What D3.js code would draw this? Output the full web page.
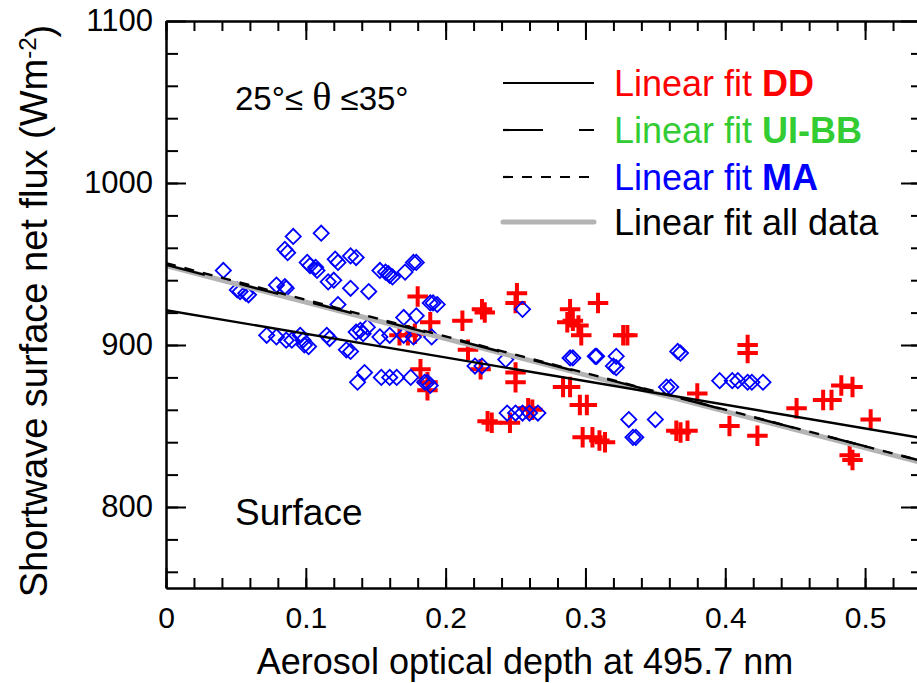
<!DOCTYPE html>
<html>
<head>
<meta charset="utf-8">
<script src="https://cdn.jsdelivr.net/npm/d3@7"></script>
<style>
	body { margin: 0; background: #fff; }
	text { font-family: "Liberation Sans", Arial, sans-serif; }
</style>
</head>
<body>
<div id="chart"></div>
<script>
//DD points (red plus)
const ddX = [0.180, 0.189, 0.167, 0.173, 0.178, 0.182, 0.187, 0.187, 0.212, 0.216,
	0.226, 0.228, 0.225, 0.230, 0.233, 0.246, 0.251, 0.250, 0.250, 0.250,
	0.259, 0.262, 0.287, 0.289, 0.291, 0.295, 0.297, 0.284, 0.289, 0.296,
	0.301, 0.309, 0.327, 0.330, 0.298, 0.305, 0.310, 0.314, 0.365, 0.368,
	0.373, 0.380, 0.403, 0.416, 0.416, 0.423, 0.451, 0.470, 0.476, 0.483,
	0.491, 0.504, 0.489, 0.491];
const ddY = [930, 914, 906, 906, 907, 885, 877, 872, 915, 897,
	922, 920, 885, 853, 852, 852, 932, 926, 883, 877,
	861, 860, 914, 922, 915, 912, 906, 874, 874, 863,
	863, 926, 906, 906, 843, 843, 841, 840, 847, 846,
	847, 870, 850, 900, 895, 844, 861, 866, 866, 875,
	874, 854, 832, 829];

//MA points (blue diamonds)
const maX = [0.041, 0.051, 0.053, 0.057, 0.059, 0.072, 0.079, 0.079, 0.085, 0.086,
	0.085, 0.087, 0.091, 0.086, 0.090, 0.096, 0.098, 0.099, 0.102, 0.101,
	0.103, 0.107, 0.108, 0.111, 0.115, 0.117, 0.116, 0.120, 0.121, 0.123,
	0.123, 0.129, 0.132, 0.132, 0.136, 0.132, 0.136, 0.139, 0.141, 0.144,
	0.137, 0.142, 0.145, 0.153, 0.160, 0.153, 0.157, 0.159, 0.160, 0.162,
	0.154, 0.160, 0.165, 0.170, 0.171, 0.177, 0.179, 0.179, 0.170, 0.177,
	0.175, 0.187, 0.189, 0.185, 0.189, 0.191, 0.194, 0.190, 0.221, 0.226,
	0.243, 0.255, 0.244, 0.250, 0.255, 0.260, 0.266, 0.289, 0.291, 0.307,
	0.308, 0.322, 0.320, 0.322, 0.331, 0.334, 0.336, 0.350, 0.358, 0.361,
	0.366, 0.368, 0.396, 0.405, 0.409, 0.416, 0.419, 0.427];
const maY = [946, 934, 933, 932, 931, 906, 905, 937, 936, 935,
	959, 957, 967, 903, 903, 906, 903, 900, 899, 951,
	949, 948, 946, 969, 906, 904, 939, 940, 953, 951,
	925, 897, 896, 955, 954, 935, 908, 909, 907, 911,
	877, 883, 933, 905, 906, 946, 945, 944, 943, 942,
	880, 880, 880, 917, 945, 951, 951, 918, 906, 905,
	880, 877, 875, 877, 926, 926, 925, 905, 887, 887,
	891, 922, 858, 858, 858, 858, 858, 892, 892, 893,
	893, 893, 887, 886, 854, 843, 843, 854, 874, 874,
	896, 895, 878, 878, 878, 877, 877, 877];

//linear fits: value = intercept + slope * aod
const fitNames = ['DD', 'UI-BB', 'MA', 'all data'];
const fitIntercepts = [921.5, 949.5, 950.5, 949];
const fitSlopes = [-146, -224, -226, -225];
const fitColors = ['red', '#33cc33', 'blue', 'black'];

const xMajor = [0, 0.1, 0.2, 0.3, 0.4, 0.5];
const xMinor = d3.range(0, 0.541, 0.02);
const yMajor = [800, 900, 1000, 1100];
const yMinor = d3.range(760, 1100, 20);

const W = 917;
const H = 683;
const mLeft = 166, mRight = 921, mTop = 21, mBottom = 588;

const svg = d3.select('#chart')
	.append('svg')
	.attr('width', W)
	.attr('height', H);

const x = d3.scaleLinear().domain([0, 0.54]).range([mLeft, mRight]);
const y = d3.scaleLinear().domain([750, 1100]).range([mBottom, mTop]);

svg.append('clipPath')
	.attr('id', 'plotclip')
	.append('rect')
	.attr('x', mLeft)
	.attr('y', mTop)
	.attr('width', mRight - mLeft)
	.attr('height', mBottom - mTop);

const plot = svg.append('g').attr('clip-path', 'url(#plotclip)');

//markers
const plusSym = {
	draw(ctx, size) {
		const r = Math.sqrt(size) / 2;
		ctx.moveTo(-r, 0); ctx.lineTo(r, 0);
		ctx.moveTo(0, -r); ctx.lineTo(0, r);
	}
};

plot.append('g')
	.selectAll('path')
	.data(ddX)
	.join('path')
	.attr('d', d3.symbol(plusSym, 420))
	.attr('transform', (d, i) => 'translate(' + x(d) + ',' + y(ddY[i]) + ')')
	.style('fill', 'none')
	.style('stroke', '#ff0000')
	.style('stroke-width', '4px');

plot.append('g')
	.selectAll('path')
	.data(maX)
	.join('path')
	.attr('d', d3.symbol(d3.symbolSquare, 115))
	.attr('transform', (d, i) => 'translate(' + x(d) + ',' + y(maY[i]) + ') rotate(45)')
	.style('fill', 'none')
	.style('stroke', '#0000ff')
	.style('stroke-width', '1.8px');

//fit lines
const fitStyles = [
	{ stroke: 'black', width: 2.4, dash: null },
	{ stroke: 'black', width: 2.4, dash: '40,36' },
	{ stroke: 'black', width: 2.4, dash: '10,9' },
	{ stroke: '#b4b4b4', width: 5, dash: null }
];
const drawOrder = [3, 1, 2, 0];
const line = d3.line().x(d => x(d[0])).y(d => y(d[1]));

drawOrder.forEach(i => {
	const pts = [0, 0.54].map(a => [a, fitIntercepts[i] + fitSlopes[i] * a]);
	plot.append('path')
		.attr('d', line(pts))
		.style('fill', 'none')
		.style('stroke', fitStyles[i].stroke)
		.style('stroke-width', fitStyles[i].width + 'px')
		.style('stroke-dasharray', fitStyles[i].dash);
});

//axes, all ticks inward
function styleAxis(g) {
	g.selectAll('path').style('stroke', 'black').style('stroke-width', '2px');
	g.selectAll('line').style('stroke', 'black').style('stroke-width', '2px');
}

svg.append('g')
	.attr('transform', 'translate(0,' + mBottom + ')')
	.call(d3.axisBottom(x).tickValues(xMinor).tickSize(-10).tickSizeOuter(0).tickFormat(''))
	.call(styleAxis);
svg.append('g')
	.attr('transform', 'translate(0,' + mBottom + ')')
	.call(d3.axisBottom(x).tickValues(xMajor).tickSize(-20).tickSizeOuter(0).tickPadding(19)
		.tickFormat(d => d === 0 ? '0' : d3.format('.1f')(d)))
	.call(styleAxis)
	.selectAll('text')
	.style('font-size', '30px')
	.style('fill', 'black');

svg.append('g')
	.attr('transform', 'translate(0,' + mTop + ')')
	.call(d3.axisTop(x).tickValues(xMinor).tickSize(-10).tickSizeOuter(0).tickFormat(''))
	.call(styleAxis);
svg.append('g')
	.attr('transform', 'translate(0,' + mTop + ')')
	.call(d3.axisTop(x).tickValues(xMajor).tickSize(-19).tickSizeOuter(0).tickFormat(''))
	.call(styleAxis);

svg.append('g')
	.attr('transform', 'translate(' + mLeft + ',0)')
	.call(d3.axisLeft(y).tickValues(yMinor).tickSize(-12).tickSizeOuter(0).tickFormat(''))
	.call(styleAxis);
svg.append('g')
	.attr('transform', 'translate(' + mLeft + ',0)')
	.call(d3.axisLeft(y).tickValues(yMajor).tickSize(-20).tickSizeOuter(0).tickPadding(13)
		.tickFormat(d3.format('d')))
	.call(styleAxis)
	.selectAll('text')
	.style('font-size', '31px')
	.style('fill', 'black');

svg.append('g')
	.attr('transform', 'translate(' + mRight + ',0)')
	.call(d3.axisRight(y).tickValues(yMinor).tickSize(-10).tickSizeOuter(0).tickFormat(''))
	.call(styleAxis);
svg.append('g')
	.attr('transform', 'translate(' + mRight + ',0)')
	.call(d3.axisRight(y).tickValues(yMajor).tickSize(-20).tickSizeOuter(0).tickFormat(''))
	.call(styleAxis);

//axis titles
svg.append('text')
	.attr('x', 525)
	.attr('y', 674)
	.attr('text-anchor', 'middle')
	.style('font-size', '36px')
	.text('Aerosol optical depth at 495.7 nm');

const yTitle = svg.append('text')
	.attr('transform', 'translate(47,311) rotate(-90)')
	.attr('text-anchor', 'middle')
	.style('font-size', '38px');
yTitle.append('tspan').text('Shortwave surface net flux (Wm');
yTitle.append('tspan').attr('dy', '-0.45em').style('font-size', '24px').text('-2');
yTitle.append('tspan').attr('dy', '0.45em').text(')');

//annotations
const ann = svg.append('text')
	.attr('x', 235)
	.attr('y', 110)
	.style('font-size', '33px');
ann.append('tspan').text('25°≤ ');
ann.append('tspan').style('font-family', '"Liberation Serif", "Times New Roman", serif').style('font-size', '40px').text('θ');
ann.append('tspan').text(' ≤35°');

svg.append('text')
	.attr('x', 235)
	.attr('y', 525)
	.style('font-size', '37px')
	.text('Surface');

//legend
const legendY = [83, 130, 177, 222];
fitNames.forEach((name, i) => {
	svg.append('line')
		.attr('x1', 503)
		.attr('x2', 594)
		.attr('y1', legendY[i])
		.attr('y2', legendY[i])
		.style('stroke', fitStyles[i].stroke)
		.style('stroke-width', (i === 3 ? 5 : 2.2) + 'px')
		.style('stroke-linecap', i === 3 ? 'round' : 'butt')
		.style('stroke-dasharray', fitStyles[i].dash);

	const t = svg.append('text')
		.attr('x', 614)
		.attr('y', legendY[i] + 13)
		.style('font-size', '36px')
		.style('fill', fitColors[i]);
	if (i === 3) {
		t.text('Linear fit all data');
	} else {
		t.append('tspan').text('Linear fit ');
		t.append('tspan').style('font-weight', 'bold').text(name);
	}
});
</script>
</body>
</html>
